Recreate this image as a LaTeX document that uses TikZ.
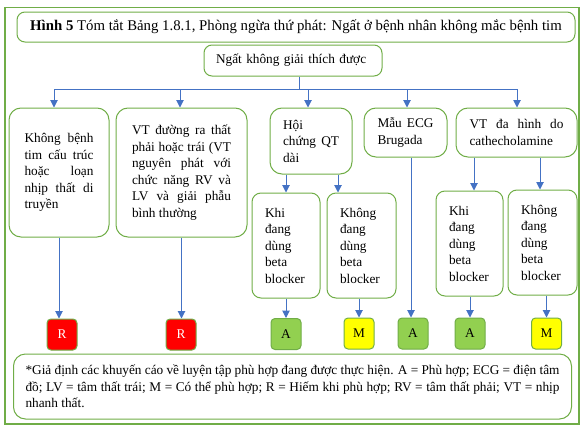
\documentclass[tikz,border=0pt]{standalone}
\usepackage{fontspec}
\setmainfont{Liberation Serif}
\usetikzlibrary{arrows.meta}
\definecolor{boxgreen}{HTML}{70AD47}
\definecolor{arrowblue}{HTML}{4472C4}
\definecolor{goodgreen}{HTML}{92D050}
\definecolor{rarered}{HTML}{FF0000}
\definecolor{maybeyellow}{HTML}{FFFF00}
\newcommand{\boxfont}{\fontsize{13.3}{16.5}\selectfont\tolerance=10000\hbadness=10000}

\begin{document}
\begin{tikzpicture}[x=1pt,y=-1pt,
	box/.style={draw=boxgreen,line width=1pt,rounded corners=12pt,inner xsep=13pt,inner ysep=0pt,align=justify,font=\boxfont},
	smallbox/.style={box,rounded corners=9pt,align=left},
	rate/.style={draw=boxgreen,line width=1pt,rounded corners=4pt,minimum width=30pt,minimum height=31pt,inner sep=0pt,font=\fontsize{13.3}{16}\selectfont},
	conn/.style={draw=arrowblue,line width=1pt},
	arr/.style={conn,-{Triangle[length=7.5pt,width=7.5pt]}}]
	\useasboundingbox (0,0) rectangle (586,431);
	\draw[boxgreen,line width=1.5pt] (5,7.5) rectangle (579,424); % outer frame

	% title and root
	\node[box,rounded corners=8pt,align=center,minimum width=558pt,minimum height=30pt,font=\fontsize{14.8}{17}\selectfont] (title) at (296,27)
	{\textbf{Hình 5} Tóm tắt Bảng 1.8.1, Phòng ngừa thứ phát: Ngất ở bệnh nhân không mắc bệnh tim};
	\node[box,rounded corners=8pt,align=left,inner xsep=12pt,text width=154pt,minimum height=31pt] (root) at (293,60.5) {Ngất không giải thích được};

	% first level
	\node[box,inner xsep=15.5pt,text width=69pt,minimum height=129pt] (k1) at (59,172.5)
	{Không bệnh\linebreak tim cấu trúc\linebreak hoặc loạn\linebreak nhịp thất di\linebreak truyền};
	\node[box,inner xsep=16pt,text width=99pt,minimum height=129pt] (k2) at (181.5,172.5)
	{VT đường ra thất\linebreak phải hoặc trái (VT\linebreak nguyên phát với\linebreak chức năng RV và\linebreak LV và giải phẫu\linebreak bình thường};
	\node[box,text width=56pt,minimum height=66pt] (k3) at (311,141)
	{Hội\linebreak chứng QT\linebreak dài};
	\node[box,inner xsep=13.5pt,text width=56pt,minimum height=49pt] (k4) at (405.5,132.5)
	{Mẫu ECG\linebreak Brugada};
	\node[box,inner xsep=13.5pt,text width=94pt,minimum height=49pt] (k5) at (516.5,132.5)
	{VT đa hình do\linebreak cathecholamine};

	% second level
	\node[smallbox,text width=42pt,minimum height=105pt] (q1) at (286,245.5) {Khi\\ đang\\ dùng\\ beta\\ blocker};
	\node[smallbox,text width=43pt,minimum height=105pt] (q2) at (361.5,245.5) {Không\\ đang\\ dùng\\ beta\\ blocker};
	\node[smallbox,text width=41pt,minimum height=105pt] (c1) at (469.5,243.5) {Khi\\ đang\\ dùng\\ beta\\ blocker};
	\node[smallbox,text width=43pt,minimum height=105pt] (c2) at (542.5,242.5) {Không\\ đang\\ dùng\\ beta\\ blocker};

	% ratings
	\node[rate,fill=rarered,text=white] (r1) at (62,334.5) {R};
	\node[rate,fill=rarered,text=white] (r2) at (181,334.5) {R};
	\node[rate,fill=goodgreen] (a1) at (286,334) {A};
	\node[rate,fill=maybeyellow] (m1) at (359,333.5) {M};
	\node[rate,fill=goodgreen] (a2) at (413,333.5) {A};
	\node[rate,fill=goodgreen] (a3) at (470,333.5) {A};
	\node[rate,fill=maybeyellow] (m2) at (546.5,333.5) {M};

	% footnote
	\node[box,inner xsep=12pt,text width=534pt,minimum height=65pt] (note) at (292.5,386.5)
	{*Giả định các khuyến cáo về luyện tập phù hợp đang được thực hiện. A = Phù hợp; ECG = điện tâm\linebreak
	đồ; LV = tâm thất trái; M = Có thể phù hợp; R = Hiếm khi phù hợp; RV = tâm thất phải; VT = nhịp\linebreak
	nhanh thất.};

	% bus from the root
	\coordinate (bus0) at (299,89);
	\coordinate (bus1) at (54,89);
	\coordinate (bus2) at (180,89);
	\coordinate (bus3) at (308,89);
	\coordinate (bus4) at (407,89);
	\coordinate (bus5) at (517,89);
	\draw[conn] (bus0 |- root.south) -- (bus0);
	\draw[conn] (bus1) -- (bus5);
	\foreach \i in {1,...,5}
	\draw[arr] (bus\i) -- (bus\i |- k\i.north);

	% second level arrows
	\draw[arr] (q1.north |- k3.south) -- (q1.north);
	\draw[arr] ([xshift=-23.5pt]q2.north |- k3.south) -- ([xshift=-23.5pt]q2.north);
	\draw[arr] ([xshift=4.5pt]c1.north |- k5.south) -- ([xshift=4.5pt]c1.north);
	\draw[arr] ([xshift=-2.5pt]c2.north |- k5.south) -- ([xshift=-2.5pt]c2.north);

	% rating arrows
	\draw[arr] (k1.south) -- (k1.south |- r1.north);
	\draw[arr] (k2.south) -- (k2.south |- r2.north);
	\draw[arr] (a1.north |- q1.south) -- (a1.north);
	\draw[arr] (m1.north |- q2.south) -- (m1.north);
	\draw[arr] ([xshift=-2pt]a2.north |- k4.south) -- ([xshift=-2pt]a2.north);
	\draw[arr] (a3.north |- c1.south) -- (a3.north);
	\draw[arr] (m2.north |- c2.south) -- (m2.north);
\end{tikzpicture}
\end{document}
